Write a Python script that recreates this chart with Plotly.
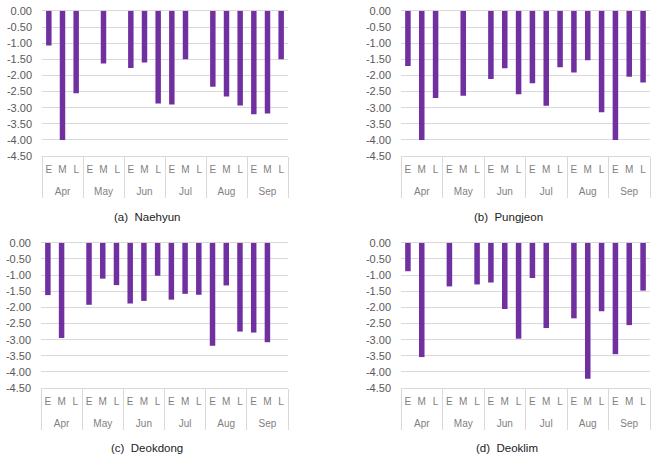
import plotly.graph_objects as go
from plotly.subplots import make_subplots

months = ["Apr", "May", "Jun", "Jul", "Aug", "Sep"]
periods = ["E", "M", "L"]

naehyun = [-1.07, -4.00, -2.55, None, -1.63, None, -1.77, -1.60, -2.87,
           -2.90, -1.50, None, -2.35, -2.65, -2.93, -3.20, -3.18, -1.50]
pungjeon = [-1.71, -4.00, -2.70, None, -2.63, None, -2.11, -1.78, -2.58,
            -2.24, -2.94, -1.75, -1.91, -1.53, -3.14, -4.00, -2.04, -2.22]
deokdong = [-1.62, -2.95, None, -1.92, -1.11, -1.31, -1.88, -1.80, -1.02,
            -1.76, -1.58, -1.61, -3.19, -1.32, -2.75, -2.78, -3.08, None]
deoklim = [-0.88, -3.54, None, -1.35, None, -1.29, -1.23, -2.05, -2.97,
           -1.09, -2.64, None, -2.34, -4.21, -2.12, -3.45, -2.55, -1.48]

captions = ["(a)  Naehyun", "(b)  Pungjeon", "(c)  Deokdong", "(d)  Deoklim"]
ytick_vals = [0, -0.5, -1.0, -1.5, -2.0, -2.5, -3.0, -3.5, -4.0, -4.5]

# inner labels get an empty second line so the month row sits lower, as in the reference
x_multi = [[m for m in months for p in periods],
           [p + "<br> " for m in months for p in periods]]

W, H = 651, 473
fig = make_subplots(rows=2, cols=2)

series = [naehyun, pungjeon, deokdong, deoklim]
pos = [(1, 1), (1, 2), (2, 1), (2, 2)]
for vals, (r, c) in zip(series, pos):
    fig.add_trace(go.Bar(x=x_multi, y=vals, marker_color="#7030A0",
                         marker_line_width=0, showlegend=False), row=r, col=c)

# plot-area pixel boxes (left, right, top, bottom)
boxes = [(42, 288, 5, 154), (401, 650, 5, 154), (41, 288, 243, 392), (401, 650, 243, 392)]
lay = {}
for i, (l, rgt, t, b) in enumerate(boxes):
    sx = "" if i == 0 else str(i + 1)
    lay["xaxis" + sx] = dict(
        domain=[l / W, rgt / W], type="multicategory", showgrid=False,
        showline=True, linecolor="#d9d9d9", linewidth=1,
        showdividers=True, dividercolor="#d9d9d9", dividerwidth=1,
        tickfont=dict(family="Liberation Sans, Arial", size=10, color="#7f7f7f"),
        ticks="", tickangle=0, ticklabelstandoff=4,
    )
    lay["yaxis" + sx] = dict(
        domain=[1 - b / H, 1 - t / H], range=[-4.5, 0], autorange=False,
        tickvals=ytick_vals, ticktext=[f"{v:.2f}" for v in ytick_vals],
        showgrid=True, gridcolor="#d9d9d9", gridwidth=1,
        zeroline=True, zerolinecolor="#d9d9d9", zerolinewidth=1,
        showline=False, ticklabelstandoff=9,
        tickfont=dict(family="Liberation Sans, Arial", size=11, color="#595959"),
    )
fig.update_layout(**lay)

cap_pos = [(147, 216), (508, 216), (147, 453), (507, 453)]
for txt, (cx, cy) in zip(captions, cap_pos):
    fig.add_annotation(text=txt, x=cx / W, y=1 - cy / H, xref="paper", yref="paper",
                       showarrow=False, xanchor="center", yanchor="middle",
                       font=dict(family="Liberation Sans, Arial", size=11.5, color="#222222"))

fig.update_layout(width=W, height=H, margin=dict(l=0, r=0, t=0, b=0),
                  paper_bgcolor="white", plot_bgcolor="white", bargap=0.6,
                  font=dict(family="Liberation Sans, Arial"))

fig.write_html("out.html")
